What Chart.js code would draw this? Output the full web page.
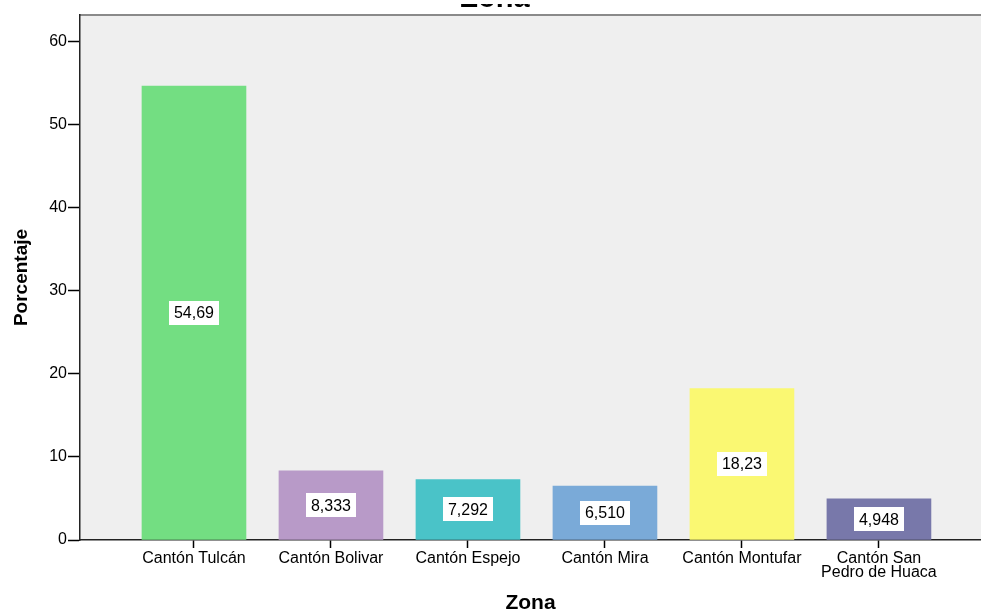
<!DOCTYPE html>
<html><head><meta charset="utf-8">
<script src="https://cdn.jsdelivr.net/npm/chart.js@4.4.1/dist/chart.umd.min.js"></script>
<style>html,body{margin:0;padding:0;background:#fff;overflow:hidden}#wrap{width:981px;height:614px;position:relative}</style>
</head><body><div id="wrap"><canvas id="c"></canvas></div>
<script>
const categories = ['Cantón Tulcán', 'Cantón Bolivar', 'Cantón Espejo', 'Cantón Mira', 'Cantón Montufar', ['Cantón San', 'Pedro de Huaca']];
const percentages = [54.69, 8.333, 7.292, 6.510, 18.23, 4.948];
const valueLabels = ['54,69', '8,333', '7,292', '6,510', '18,23', '4,948'];
const barColors = ['#73de82', '#b89ac8', '#4ac3c8', '#7aaad8', '#faf872', '#7878aa'];
const yTicks = [0, 10, 20, 30, 40, 50, 60];
const chartTitle = 'Zona';
const xTitle = 'Zona';
const yTitle = 'Porcentaje';

const FONT = "'Liberation Sans', Arial, sans-serif";

const plotBg = {
  id: 'plotBg',
  beforeDraw(chart) {
    const {ctx, chartArea: a} = chart;
    ctx.save();
    ctx.fillStyle = '#efefef';
    ctx.fillRect(a.left, a.top, a.right - a.left, a.bottom - a.top);
    ctx.strokeStyle = '#8a8a8a';
    ctx.lineWidth = 2;
    ctx.beginPath();
    ctx.moveTo(a.left, a.top);
    ctx.lineTo(a.right, a.top);
    ctx.stroke();
    ctx.restore();
  },
  afterDraw(chart) {
    const {ctx} = chart;
    ctx.save();
    ctx.fillStyle = '#000';
    ctx.font = 'bold 29px ' + FONT;
    ctx.textAlign = 'center';
    ctx.textBaseline = 'alphabetic';
    ctx.fillText(chartTitle, 495, 6.7);
    ctx.fillStyle = '#ffffff';
    ctx.fillRect(0, 0, chart.width, 4);
    ctx.restore();
  }
};

const valueBoxes = {
  id: 'valueBoxes',
  afterDatasetsDraw(chart) {
    const {ctx} = chart;
    const meta = chart.getDatasetMeta(0);
    ctx.save();
    ctx.font = '16px ' + FONT;
    ctx.textAlign = 'center';
    ctx.textBaseline = 'middle';
    meta.data.forEach((bar, i) => {
      const p = bar.getProps(['x', 'y', 'base'], true);
      const cy = (p.y + p.base) / 2;
      const txt = valueLabels[i];
      const w = ctx.measureText(txt).width + 10;
      const h = 24;
      ctx.fillStyle = '#ffffff';
      ctx.fillRect(Math.round(p.x - w / 2), Math.round(cy - h / 2), Math.round(w), h);
      ctx.fillStyle = '#000000';
      ctx.fillText(txt, p.x, cy + 1);
    });
    ctx.restore();
  }
};

const xMin = -0.832, xMax = 5.745;

new Chart(document.getElementById('c'), {
  type: 'bar',
  data: {
    datasets: [{
      data: percentages.map((v, i) => ({x: i, y: v})),
      backgroundColor: barColors,
      borderWidth: 0,
      barThickness: 104
    }]
  },
  options: {
    responsive: true,
    maintainAspectRatio: false,
    animation: false,
    layout: {padding: {top: 15, left: 0, right: 0, bottom: 0}},
    plugins: {legend: {display: false}, tooltip: {enabled: false}, title: {display: false}},
    scales: {
      x: {
        type: 'linear',
        min: xMin,
        max: xMax,
        offset: false,
        afterBuildTicks: s => { s.ticks = categories.map((c, i) => ({value: i})); },
        afterFit: s => { s.height = 74; },
        ticks: {
          autoSkip: false,
          maxRotation: 0,
          color: '#000',
          padding: 3,
          font: {family: FONT, size: 16, lineHeight: 0.92},
          callback: v => categories[v]
        },
        grid: {offset: false, drawOnChartArea: false, drawTicks: true, tickLength: 8, tickColor: '#000', tickWidth: 1.5},
        border: {display: true, color: '#222', width: 1.5},
        title: {display: true, text: xTitle, color: '#000', font: {family: FONT, size: 21, weight: 'bold', lineHeight: 1.05}, padding: {top: 0, bottom: 0}}
      },
      y: {
        min: 0,
        max: 63.25,
        afterBuildTicks: s => { s.ticks = yTicks.map(v => ({value: v})); },
        afterFit: s => { s.width = 80; },
        ticks: {color: '#000', padding: 1, font: {family: FONT, size: 16}},
        grid: {drawOnChartArea: false, drawTicks: true, tickLength: 12, tickColor: '#000', tickWidth: 1.5},
        border: {display: true, color: '#222', width: 1.5},
        title: {display: true, text: yTitle, color: '#000', font: {family: FONT, size: 19, weight: 'bold'}, padding: {top: 10, bottom: 0}}
      }
    }
  },
  plugins: [plotBg, valueBoxes]
});
</script>
</body></html>
